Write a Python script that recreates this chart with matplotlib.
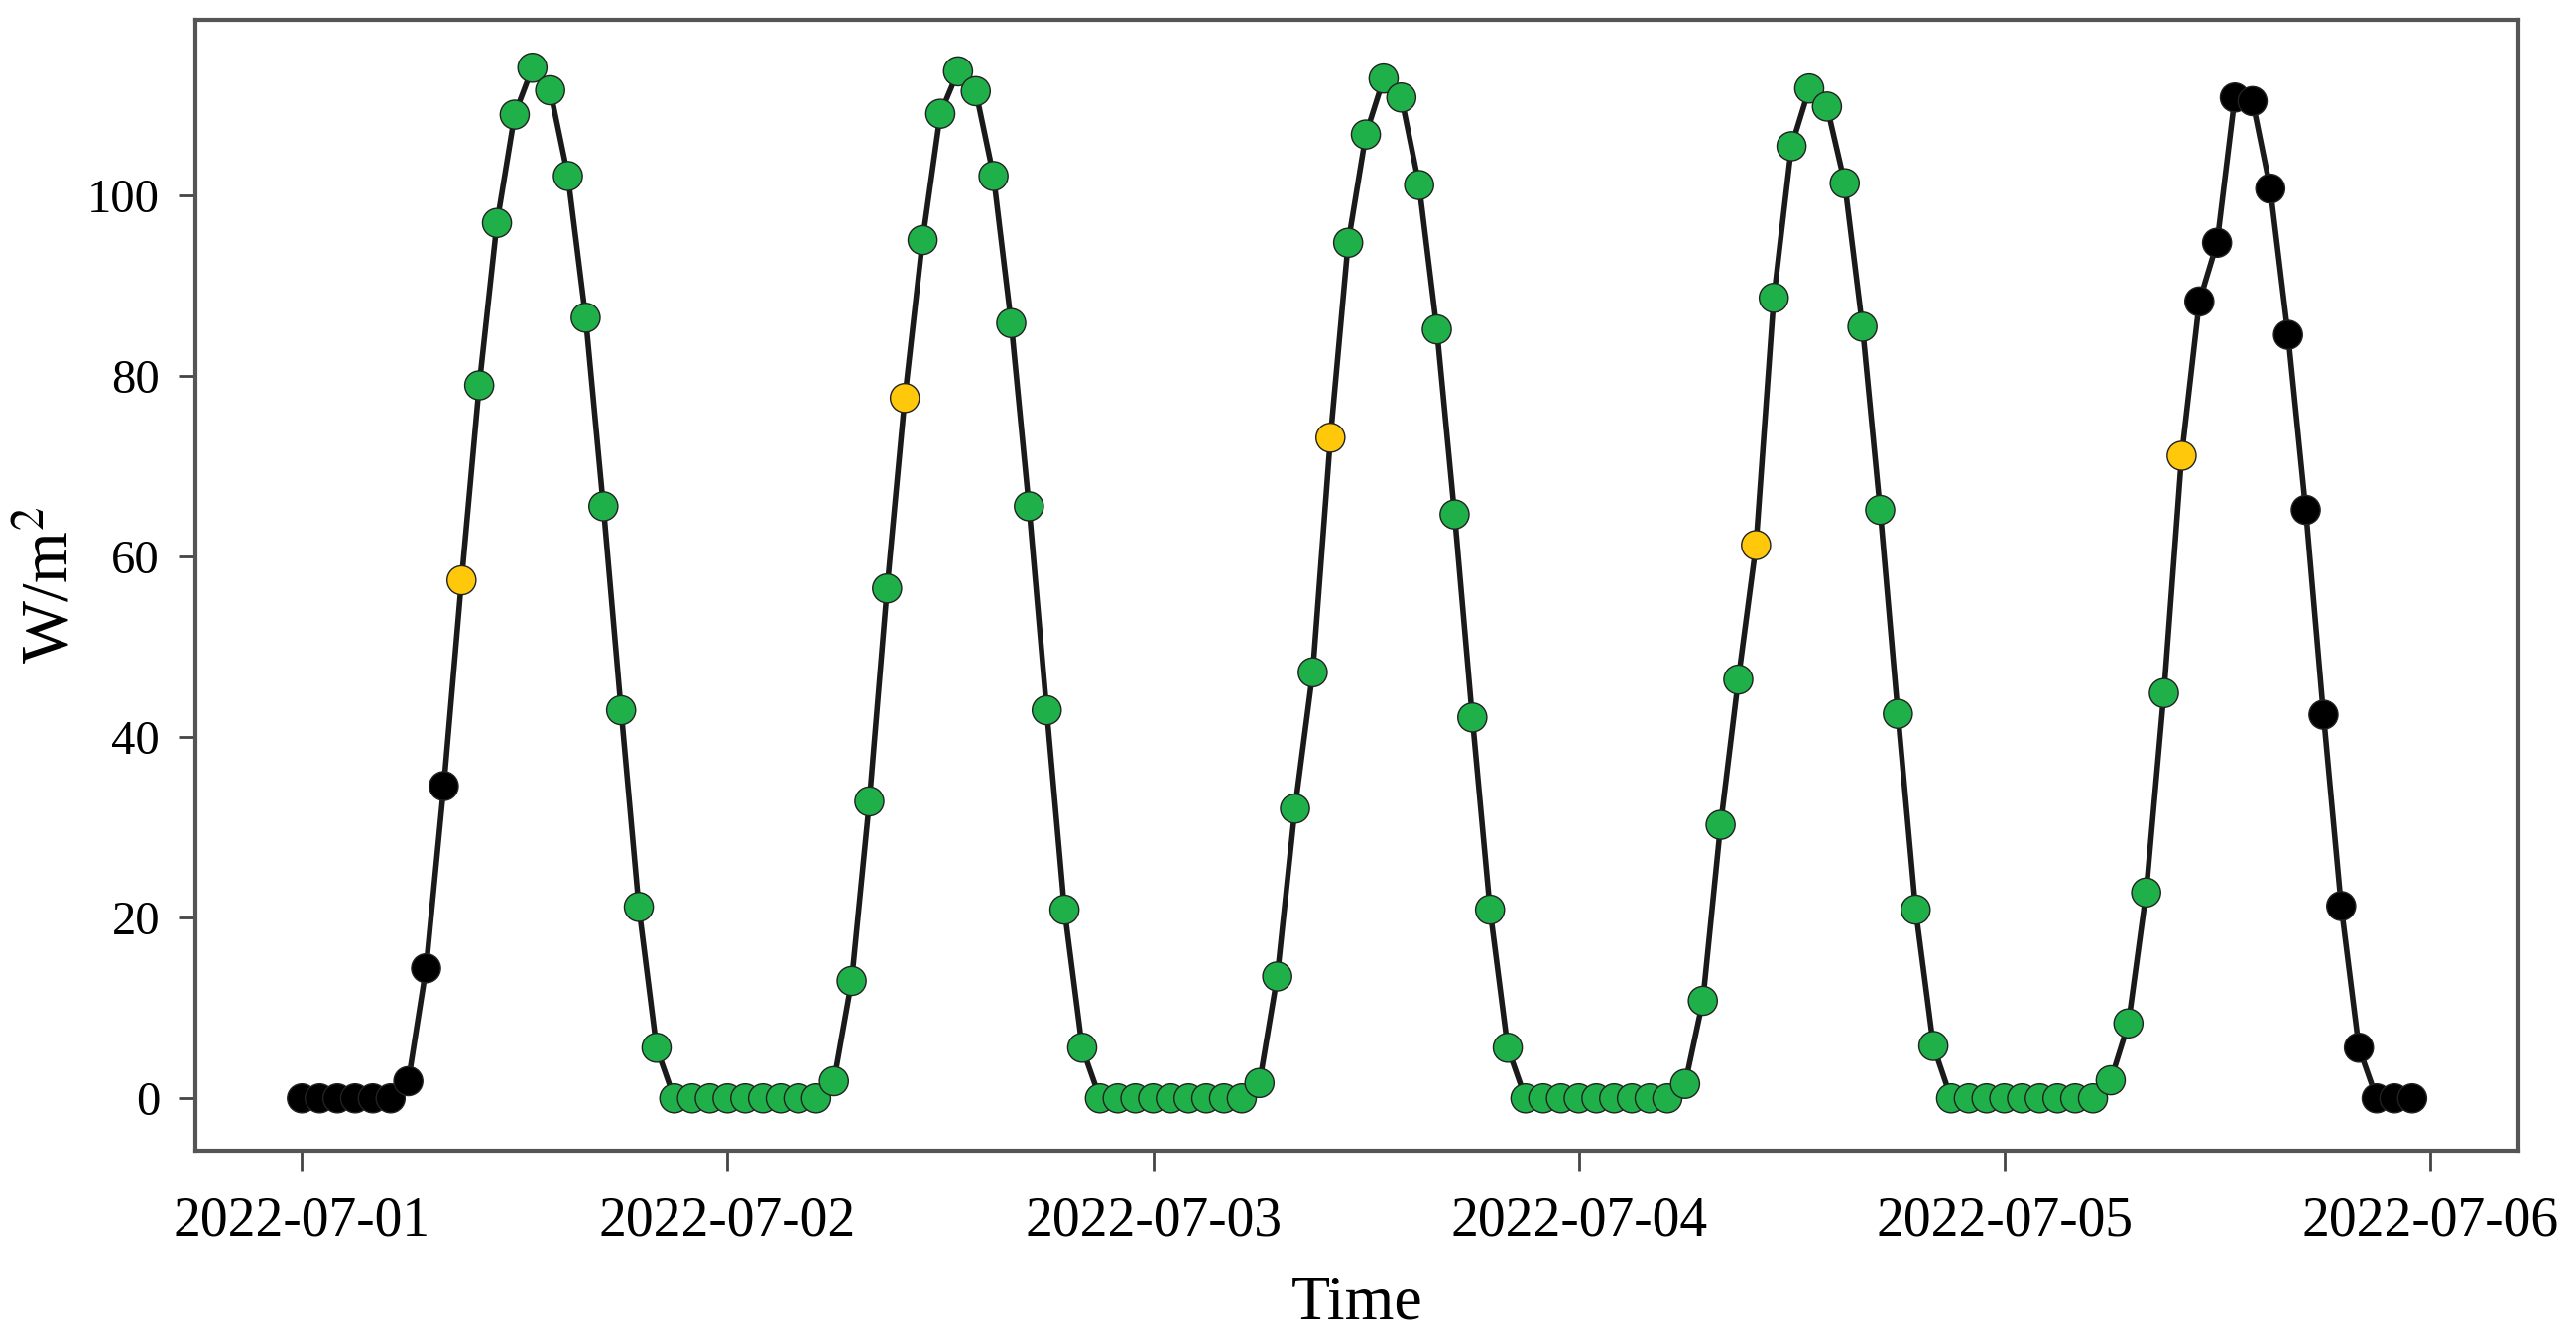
import numpy as np
import pandas as pd
import matplotlib
matplotlib.use("Agg")
import matplotlib.pyplot as plt
import matplotlib.dates as mdates

# hourly irradiance, 2022-07-01 .. 2022-07-05 (24 values per day)
day1 = [0, 0, 0, 0, 0, 0, 1.9, 14.4, 34.6, 57.4, 79.0, 97.0, 109.0, 114.2,
        111.7, 102.2, 86.5, 65.6, 43.0, 21.2, 5.6, 0, 0, 0]
day2 = [0, 0, 0, 0, 0, 0, 1.9, 13.0, 32.9, 56.5, 77.6, 95.1, 109.1, 113.8,
        111.6, 102.2, 85.9, 65.6, 43.0, 20.9, 5.6, 0, 0, 0]
day3 = [0, 0, 0, 0, 0, 0, 1.7, 13.5, 32.1, 47.2, 73.2, 94.8, 106.8, 113.0,
        110.9, 101.2, 85.2, 64.7, 42.2, 20.9, 5.6, 0, 0, 0]
day4 = [0, 0, 0, 0, 0, 0, 1.6, 10.8, 30.3, 46.4, 61.3, 88.7, 105.5, 111.9,
        109.9, 101.4, 85.5, 65.2, 42.6, 20.9, 5.8, 0, 0, 0]
day5 = [0, 0, 0, 0, 0, 0, 2.0, 8.3, 22.8, 44.9, 71.2, 88.3, 94.8, 110.9,
        110.5, 100.8, 84.6, 65.2, 42.5, 21.3, 5.6, 0, 0, 0]

# point status per hour: k = unused, y = selected, g = used
flags1 = "kkkkkkkkkygggggggggggggg"
flags2 = "ggggggggggyggggggggggggg"
flags3 = "ggggggggggyggggggggggggg"
flags4 = "ggggggggggyggggggggggggg"
flags5 = "ggggggggggykkkkkkkkkkkkk"

values = np.array(day1 + day2 + day3 + day4 + day5)
flags = flags1 + flags2 + flags3 + flags4 + flags5
times = pd.date_range("2022-07-01 00:00", periods=len(values), freq="h")

flag_colors = {"k": "#000000", "y": "#FFC80A", "g": "#1FB04A"}
point_colors = [flag_colors[f] for f in flags]

plt.rcParams["font.family"] = ["Liberation Serif", "DejaVu Serif"]
plt.rcParams["mathtext.fontset"] = "stix"

fig = plt.figure(figsize=(25.97, 13.55), dpi=100)
ax = fig.add_axes([0.0759, 0.1439, 0.9018, 0.8413])

ax.plot(times, values, color="#1a1a1a", linewidth=4.0, zorder=2)
ax.scatter(times, values, c=point_colors, s=21 ** 2, edgecolors="#222222",
           linewidths=1.0, zorder=3)

start = pd.Timestamp("2022-07-01")
ax.set_xlim(start - pd.Timedelta(hours=6.0), start + pd.Timedelta(hours=125.0))
ax.set_ylim(-5.8, 119.5)

ax.set_xticks(pd.date_range("2022-07-01", periods=6, freq="D"))
ax.xaxis.set_major_formatter(mdates.DateFormatter("%Y-%m-%d"))
ax.set_yticks([0, 20, 40, 60, 80, 100])

ax.tick_params(axis="x", labelsize=40, length=15, width=2, pad=18, color="#444444")
ax.tick_params(axis="y", labelsize=35, length=12, width=2, pad=14, color="#444444")

for sp in ax.spines.values():
    sp.set_color("#555555")
    sp.set_linewidth(3)

ax.set_xlabel("Time", fontsize=46, labelpad=20)
ax.set_ylabel(r"W/m$^{2}$", fontsize=48, labelpad=4)

fig.savefig("out.png", dpi=100, facecolor="white")
